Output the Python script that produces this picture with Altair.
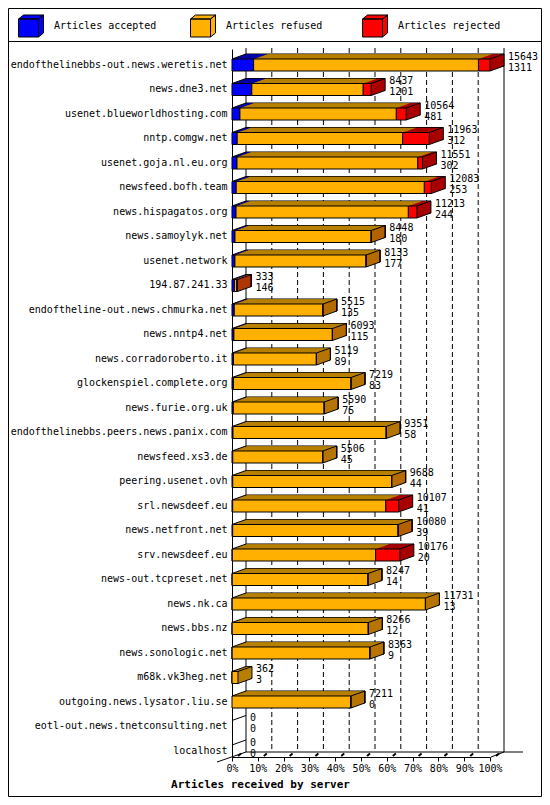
import altair as alt
import pandas as pd

# ---------------- data ----------------
servers = [
    "endofthelinebbs-out.news.weretis.net",
    "news.dne3.net",
    "usenet.blueworldhosting.com",
    "nntp.comgw.net",
    "usenet.goja.nl.eu.org",
    "newsfeed.bofh.team",
    "news.hispagatos.org",
    "news.samoylyk.net",
    "usenet.network",
    "194.87.241.33",
    "endoftheline-out.news.chmurka.net",
    "news.nntp4.net",
    "news.corradoroberto.it",
    "glockenspiel.complete.org",
    "news.furie.org.uk",
    "endofthelinebbs.peers.news.panix.com",
    "newsfeed.xs3.de",
    "peering.usenet.ovh",
    "srl.newsdeef.eu",
    "news.netfront.net",
    "srv.newsdeef.eu",
    "news-out.tcpreset.net",
    "news.nk.ca",
    "news.bbs.nz",
    "news.sonologic.net",
    "m68k.vk3heg.net",
    "outgoing.news.lysator.liu.se",
    "eotl-out.news.tnetconsulting.net",
    "localhost",
]
totals = [15643, 8437, 10564, 11963, 11551, 12083, 11213, 8448, 8133, 333,
          5515, 6093, 5119, 7219, 5590, 9351, 5506, 9688, 10107, 10080,
          10176, 8247, 11731, 8266, 8363, 362, 7211, 0, 0]
accepted = [1311, 1201, 481, 312, 302, 253, 244, 180, 177, 146,
            135, 115, 89, 83, 75, 58, 45, 44, 41, 39,
            20, 14, 13, 12, 9, 3, 0, 0, 0]
rejected = [700, 480, 600, 1620, 285, 420, 520, 15, 10, 40,
            10, 10, 5, 5, 5, 5, 5, 10, 780, 15,
            1470, 5, 5, 5, 5, 0, 5, 0, 0]
categories = ["Articles accepted", "Articles refused", "Articles rejected"]
bright = ["#0000ff", "#ffb000", "#ff0000"]
dark = ["#0000a8", "#b88000", "#a80000"]
pct_ticks = [0, 10, 20, 30, 40, 50, 60, 70, 80, 90, 100]

FONT = "DejaVu Sans Mono"
DX, DY, N = 14, 5, 14

# ---------------- tables built from the arrays ----------------
max_total = max(totals)
rows = []
for s, t, a, r in zip(servers, totals, accepted, rejected):
    start = 0.0
    for cat, shade, v in zip(categories, dark, [a, t - a - r, r]):
        end = start + v / max_total * 100
        rows.append(dict(server=s, cat=cat, shade=shade, start=start, end=end))
        start = end
seg = pd.DataFrame(rows)
seg = seg[seg["end"] > seg["start"]]
srv = pd.DataFrame(dict(server=servers,
                        pct=[t / max_total * 100 for t in totals],
                        total=[str(t) for t in totals],
                        acc=[str(a) for a in accepted]))
srv_nz = srv[srv["pct"] > 0]
grid_df = pd.DataFrame(dict(p=pct_ticks, solid=[p in (pct_ticks[0], pct_ticks[-1]) for p in pct_ticks]))
ends_df = pd.DataFrame(dict(a=[pct_ticks[0]], b=[pct_ticks[-1]]))
one = pd.DataFrame(dict(o=[0]))

# ---------------- scales / axes ----------------
XS = alt.Scale(domain=[0, 100], nice=False, zero=False)
XAX = alt.Axis(title="Articles received by server", values=pct_ticks,
               labelExpr="datum.value + '%'", grid=False, tickColor="black",
               tickSize=4, domainColor="black", labelFont=FONT, labelFontSize=10,
               labelColor="black", labelPadding=2, labelFlush=False,
               labelOverlap=False, titleFont=FONT, titleFontSize=11,
               titleFontWeight="bold", titleColor="black", titleX=28, titleY=27,
               titleBaseline="middle", titleAlign="center")
YS = alt.Scale(domain=servers, paddingInner=0.51, paddingOuter=0.204, align=1, round=False)
YAX = alt.Axis(title=None, ticks=False, domain=True, domainColor="black",
               labelFont=FONT, labelFontSize=10, labelColor="black",
               labelPadding=5, labelLimit=300)


def X(f):
    return alt.X(f, scale=XS, axis=XAX)


def Y():
    return alt.Y("server:N", scale=YS, axis=YAX)


CUBE = ("M-1,-0.56L0.6,-0.56L0.6,0.88L-1,0.88Z"
        "M-1,-0.56L-0.6,-0.88L1,-0.88L0.6,-0.56Z"
        "M0.6,-0.56L1,-0.88L1,0.56L0.6,0.88Z")
LEG = alt.Legend(title=None, orient="none", legendX=-214, legendY=-36,
                 direction="horizontal", columns=3, gridAlign="all",
                 columnPadding=31, symbolType=CUBE, symbolSize=625,
                 symbolStrokeColor="black", symbolStrokeWidth=1, symbolOpacity=1,
                 labelFont=FONT, labelFontSize=10, labelColor="black",
                 labelOffset=10, padding=0)

# ---------------- layers ----------------
frame = alt.Chart(one).mark_rect(fillOpacity=0, stroke="black", strokeWidth=1).encode(
    x=alt.value(-223.5), x2=alt.value(309.5), y=alt.value(-40.5), y2=alt.value(747.5))
sep = alt.Chart(one).mark_rule(color="black").encode(
    x=alt.value(-224), x2=alt.value(310), y=alt.value(-7.5))

grid = alt.Chart(grid_df).mark_rule(color="black", strokeWidth=1, xOffset=DX).encode(
    x=X("p:Q"), y=alt.value(-1), y2=alt.value(703),
    strokeDash=alt.condition("datum.solid", alt.value([1, 0]), alt.value([5, 3])))

back_floor = alt.Chart(ends_df).mark_rule(color="black", xOffset=DX, x2Offset=DX + 19).encode(
    x=X("a:Q"), x2="b:Q", y=alt.value(703))
left_slant = alt.Chart(ends_df).mark_rule(color="black", xOffset=-15, x2Offset=DX).encode(
    x=X("a:Q"), x2="a:Q", y=alt.value(713), y2=alt.value(703))
right_slant = alt.Chart(ends_df).mark_rule(color="black", xOffset=1, x2Offset=DX).encode(
    x=X("b:Q"), x2="b:Q", y=alt.value(708), y2=alt.value(703))
blobs = alt.Chart(grid_df).mark_rule(color="black", strokeWidth=2, xOffset=6, x2Offset=9).encode(
    x=X("p:Q"), x2="p:Q", y=alt.value(707), y2=alt.value(704.5))

depth = []
for k in range(N, 0, -1):
    ox = DX * k / N
    oy = -DY * k / N
    props = dict(xOffset=ox, x2Offset=ox, yOffset=oy, y2Offset=oy)
    if k == N:
        props.update(stroke="black", strokeWidth=1)
    depth.append(alt.Chart(seg).mark_bar(**props).encode(
        x=X("start:Q"), x2="end:Q", y=Y(),
        fill=alt.Fill("shade:N", scale=None)))

front = alt.Chart(seg).mark_bar(stroke="black", strokeWidth=1).encode(
    x=X("start:Q"), x2="end:Q", y=Y(),
    color=alt.Color("cat:N", scale=alt.Scale(domain=categories, range=bright), legend=LEG))

diag_tl = alt.Chart(srv).mark_rule(color="black", x2Offset=DX, yOffset=-6, y2Offset=-6 - DY).encode(
    x=alt.X(datum=0, scale=XS, axis=XAX), x2=alt.X2(datum=0), y=Y(), y2=alt.Y2("server:N"))
diag_tr = alt.Chart(srv_nz).mark_rule(color="black", x2Offset=DX, yOffset=-6, y2Offset=-6 - DY).encode(
    x=X("pct:Q"), x2="pct:Q", y=Y(), y2=alt.Y2("server:N"))
diag_br = alt.Chart(srv_nz).mark_rule(color="black", x2Offset=DX, yOffset=6, y2Offset=6 - DY).encode(
    x=X("pct:Q"), x2="pct:Q", y=Y(), y2=alt.Y2("server:N"))

lab1 = alt.Chart(srv).mark_text(align="left", baseline="middle", dx=18, dy=-8,
                                font=FONT, fontSize=10, color="black").encode(
    x=X("pct:Q"), y=Y(), text="total:N")
lab2 = alt.Chart(srv).mark_text(align="left", baseline="middle", dx=18, dy=3,
                                font=FONT, fontSize=10, color="black").encode(
    x=X("pct:Q"), y=Y(), text="acc:N")

chart = alt.layer(
    frame, sep, grid, back_floor, left_slant, right_slant, blobs,
    *depth, front, diag_tl, diag_tr, diag_br, lab1, lab2
).properties(
    width=258, height=708,
    autosize=alt.AutoSizeParams(type="none"),
    padding={"left": 224, "top": 41, "right": 52, "bottom": 40},
    background="white",
).configure_view(strokeWidth=0)

chart.save("out.html", embed_options={"renderer": "svg", "actions": False})
